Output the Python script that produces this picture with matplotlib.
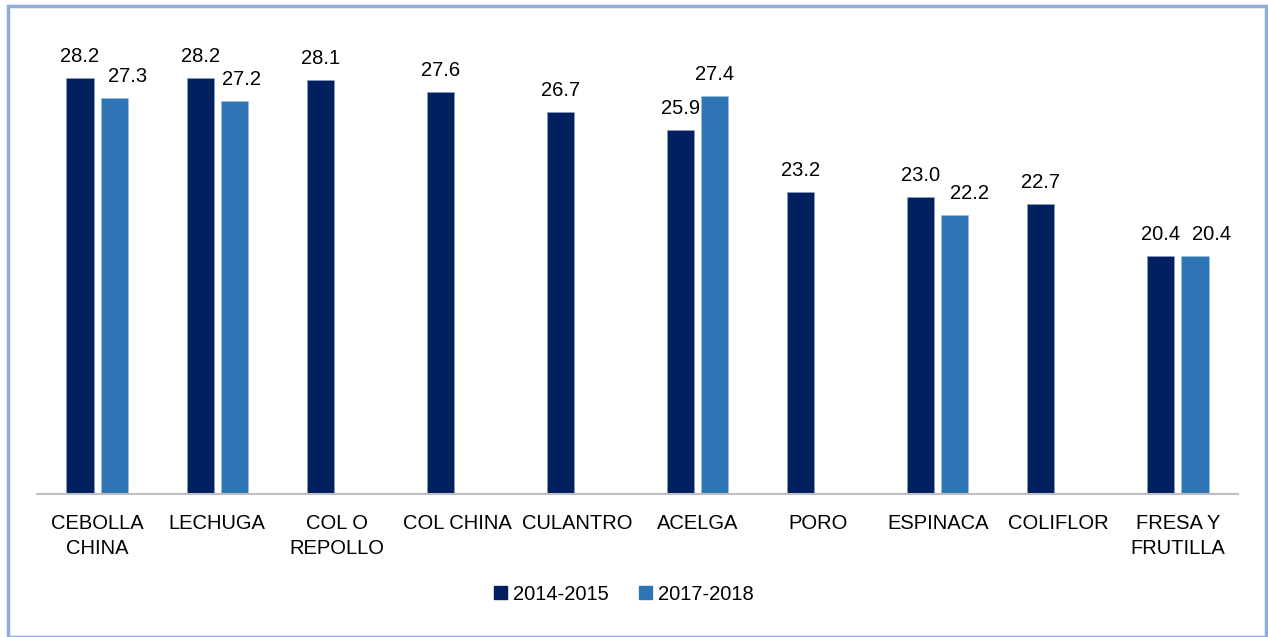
import matplotlib.pyplot as plt
import matplotlib.patches as mpatches
import numpy as np

plt.rcParams['font.family'] = ['Liberation Sans', 'DejaVu Sans']

# datos
categorias = ['CEBOLLA\nCHINA', 'LECHUGA', 'COL O\nREPOLLO', 'COL CHINA', 'CULANTRO',
              'ACELGA', 'PORO', 'ESPINACA', 'COLIFLOR', 'FRESA Y\nFRUTILLA']
serie_2014 = [28.2, 28.2, 28.1, 27.6, 26.7, 25.9, 23.2, 23.0, 22.7, 20.4]
serie_2017 = [27.3, 27.2, None, None, None, 27.4, None, 22.2, None, 20.4]
leyenda = ['2014-2015', '2017-2018']

# corrimiento horizontal de etiquetas de la serie clara (px), como en excel
corrim = [13, 7, 0, 0, 0, 0, 0, 15, 0, 17]

c_oscuro = '#002060'
c_claro = '#2E75B6'
fs = 14.5

W, H = 1268, 637
fig = plt.figure(figsize=(W / 100, H / 100), dpi=100)
ax = fig.add_axes([37 / W, (H - 494) / H, (1238 - 37) / W, (494 - 36.7) / H])

x = np.arange(len(categorias))
ancho = 0.225
desp = 0.142

for i, v in enumerate(serie_2014):
    ax.bar(x[i] - desp, v - 10, ancho, bottom=10, color=c_oscuro,
           edgecolor='#8CA0C8', linewidth=0.4)
    ax.annotate(f'{v:.1f}', (x[i] - desp, v), xytext=(0, 11.5), textcoords='offset points',
                ha='center', va='baseline', fontsize=fs, color='black')
for i, v in enumerate(serie_2017):
    if v is None:
        continue
    ax.bar(x[i] + desp, v - 10, ancho, bottom=10, color=c_claro,
           edgecolor='#9EC0E0', linewidth=0.4)
    ax.annotate(f'{v:.1f}', (x[i] + desp, v), xytext=(corrim[i] * 0.72, 11.5),
                textcoords='offset points', ha='center', va='baseline',
                fontsize=fs, color='black')

ax.set_xlim(-0.5, len(categorias) - 0.5)
ax.set_ylim(10, 30)
ax.set_yticks([])
ax.set_xticks(x)
ax.set_xticklabels(categorias, fontsize=fs, linespacing=1.42)
ax.tick_params(axis='x', length=0, pad=14.5)
for s in ['top', 'right', 'left']:
    ax.spines[s].set_visible(False)
ax.spines['bottom'].set_color('#BFBFBF')
ax.spines['bottom'].set_linewidth(1.5)

handles = [mpatches.Patch(color=c_oscuro), mpatches.Patch(color=c_claro)]
fig.legend(handles, leyenda, loc='center', bbox_to_anchor=(624 / W, (H - 594) / H),
           ncol=2, frameon=False, fontsize=fs, handlelength=0.65, handleheight=0.65,
           handletextpad=0.3, columnspacing=1.5)

# borde
fig.patches.append(mpatches.Rectangle((8 / W, 0), (1266 - 8) / W, (H - 6) / H,
                                      transform=fig.transFigure, fill=False,
                                      edgecolor='#8EA9DB', linewidth=2.5))

fig.savefig('out.png', dpi=100)
